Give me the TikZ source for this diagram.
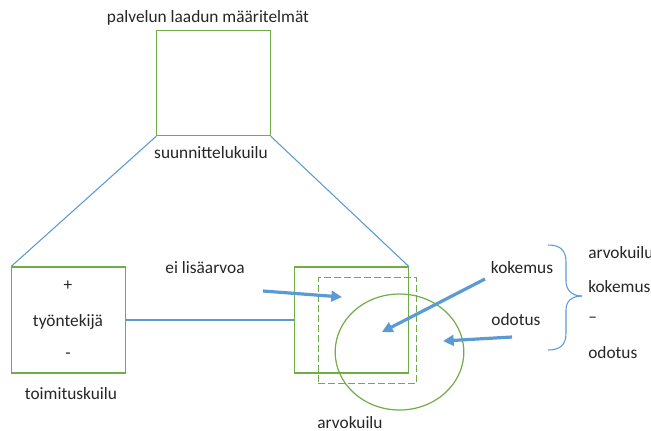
\documentclass[tikz,border=0pt]{standalone}
\usepackage{fontspec}
\setmainfont{Carlito}
\usetikzlibrary{arrows.meta,shapes.geometric}
\definecolor{boxgreen}{HTML}{70AD47}
\definecolor{lineblue}{HTML}{5B9BD5}
\begin{document}
\begin{tikzpicture}[x=0.75pt,y=-0.75pt,
  gbox/.style={draw=boxgreen,line width=0.9pt,inner sep=0pt},
  link/.style={draw=lineblue,line width=0.8pt},
  bigarrow/.style={draw=lineblue,line width=2.4pt,-{Triangle[length=8pt,width=8pt]}},
  lbl/.style={font=\fontsize{13}{15}\selectfont,inner sep=0pt,text=black!85}]
\useasboundingbox[fill=white] (0,0) rectangle (651,430);

% boxes
\node[gbox,minimum width=85pt,minimum height=79pt] (top) at (213.5,83) {};
\node[gbox,minimum width=85pt,minimum height=79.5pt] (left) at (68.5,320) {};
\node[gbox,minimum width=85pt,minimum height=79.5pt] (big) at (351.5,320) {};
\node[gbox,dash pattern=on 5pt off 2.5pt,minimum width=74pt,minimum height=79pt] (dash) at (367.5,330.5) {};
\node[gbox,ellipse,minimum width=96.5pt,minimum height=87pt] (circ) at (399.5,352) {};

% connecting lines
\draw[link] (top.south west) -- (left.north west);
\draw[link] (top.south east) -- (big.north east);
\draw[link] (left.east) -- (big.west);

% labels
\node[lbl] (title) at (208,18) {palvelun laadun määritelmät};
\node[lbl] (plan) at (211,153) {suunnittelukuilu};
\node[lbl] (plus) at (68,286) {+};
\node[lbl] (emp) at (68,322) {työntekijä};
\node[lbl] (minus) at (68,356) {-};
\node[lbl] (deliv) at (71,394) {toimituskuilu};
\node[lbl] (noval) at (205,268) {ei lisäarvoa};
\node[lbl] (val) at (350,423) {arvokuilu};
\node[lbl] (exp) at (522,268) {kokemus};
\node[lbl] (expt) at (516,320) {odotus};
\node[lbl,anchor=west] (r1) at (588,253) {arvokuilu};
\node[lbl,anchor=west] (r2) at (588,287) {kokemus};
\node[lbl,anchor=west] (r3) at (588,320) {–};
\node[lbl,anchor=west] (r4) at (588,353) {odotus};

% arrows
\coordinate (a1s) at (263,291);
\coordinate (a1e) at (342,297);
\coordinate (a2s) at (485,279);
\coordinate (a2e) at (382,332);
\coordinate (a3s) at (512,337);
\coordinate (a3e) at (443,341);
\draw[bigarrow] (a1s) -- (a1e);
\draw[bigarrow] (a2s) -- (a2e);
\draw[bigarrow] (a3s) -- (a3e);

% brace
\coordinate (bt) at (548,245);
\coordinate (bm) at (582,296);
\coordinate (bb) at (548,350);
\draw[link] (bt) .. controls (560,245) and (566,250) .. (566,262)
  -- (566,281) .. controls (566,290) and (572,296) .. (bm);
\draw[link] (bb) .. controls (560,350) and (566,345) .. (566,333)
  -- (566,310) .. controls (566,301) and (572,296) .. (bm);
\end{tikzpicture}
\end{document}
